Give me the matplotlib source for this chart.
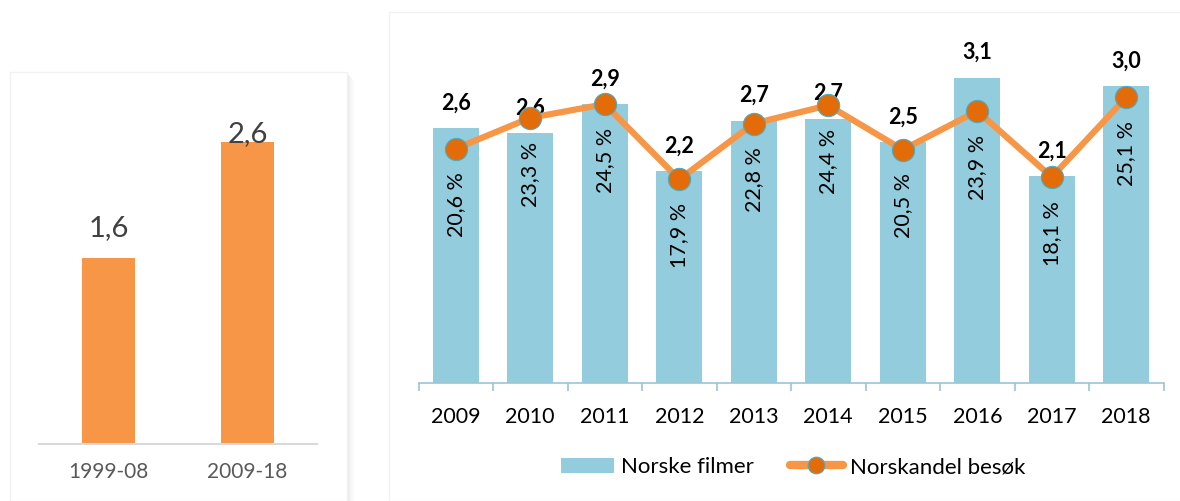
import matplotlib
matplotlib.use('Agg')
import matplotlib.pyplot as plt
from matplotlib.patches import Rectangle
from matplotlib.lines import Line2D
import numpy as np

plt.rcParams['font.family'] = ['Lato', 'DejaVu Sans']

# ---- data ----
periods = ["1999-08", "2009-18"]
period_values = [1.6, 2.6]

years = ["2009", "2010", "2011", "2012", "2013", "2014", "2015", "2016", "2017", "2018"]
norske_filmer = [2.61, 2.56, 2.86, 2.17, 2.69, 2.71, 2.47, 3.13, 2.12, 3.04]
norskandel = [20.6, 23.3, 24.5, 17.9, 22.8, 24.4, 20.5, 23.9, 18.1, 25.1]

# ---- colours ----
ORANGE = '#F79646'
DARK_ORANGE = '#E36C09'
BLUE = '#93CDDD'
AXIS_BLUE = '#9CC5D5'

W, H = 1180, 501
fig = plt.figure(figsize=(W / 100, H / 100), dpi=100)


def fx(px):
    return px / W


def fy(py):
    return 1 - py / H


# panel backgrounds (faint borders + shadow on the left one)
for i, a in enumerate([0.10, 0.08, 0.06, 0.045, 0.03, 0.02, 0.01]):
    fig.add_artist(Rectangle((fx(347 + i), 0), fx(1), fy(74 + i), transform=fig.transFigure,
                             facecolor='black', alpha=a, edgecolor='none', zorder=-3))
fig.add_artist(Rectangle((fx(10), 0), fx(337), fy(72), transform=fig.transFigure,
                         facecolor='white', edgecolor='#f2f2f2', linewidth=1, zorder=-2))
fig.add_artist(Rectangle((fx(389), 0), fx(800), fy(12), transform=fig.transFigure,
                         facecolor='white', edgecolor='#f2f2f2', linewidth=1, zorder=-2))

# ============================================================
# left chart: average per period
# ============================================================
axl = fig.add_axes([fx(39), fy(444), fx(278), (444 - 125) / H])
axl.patch.set_visible(False)
xl = np.arange(len(periods))
axl.bar(xl, period_values, width=0.375, color=ORANGE, zorder=2)
axl.set_xlim(-0.5, 1.5)
ymax_l = 2.75
axl.set_ylim(0, ymax_l)
for s in ['top', 'right', 'left']:
    axl.spines[s].set_visible(False)
axl.spines['bottom'].set_color('#d9d9d9')
axl.spines['bottom'].set_linewidth(1.5)
axl.set_yticks([])
axl.set_xticks(xl)
axl.set_xticklabels(periods, fontsize=15, color='#595959')
axl.tick_params(axis='x', length=0, pad=13)
for x, v in zip(xl, period_values):
    ly = min(v + 0.26, ymax_l - 0.08)
    axl.text(x, ly, f"{v:.1f}".replace('.', ','), ha='center', va='center',
             fontsize=21, color='#404040')

# ============================================================
# right chart: bars + share line
# ============================================================
ax = fig.add_axes([fx(418.5), fy(383.3), fx(745), (383.3 - 41.5) / H])
ax.patch.set_visible(False)
x = np.arange(len(years))
bars = ax.bar(x, norske_filmer, width=0.617, color=BLUE, zorder=2, label='Norske filmer')
ax.set_xlim(-0.5, len(years) - 0.5)
ax.set_ylim(0, 3.5)
for s in ['top', 'right', 'left']:
    ax.spines[s].set_visible(False)
ax.spines['bottom'].set_color(AXIS_BLUE)
ax.spines['bottom'].set_linewidth(1.2)
ax.set_yticks([])
ax.set_xticks(x)
ax.set_xticklabels(years, fontsize=15.5, color='black')
ax.set_xticks(np.arange(-0.5, len(years)), minor=True)
ax.tick_params(axis='x', which='major', length=0, pad=17)
ax.tick_params(axis='x', which='minor', length=6, width=1.2, color=AXIS_BLUE, direction='out')

for xi, v in zip(x, norske_filmer):
    ax.annotate(f"{v:.1f}".replace('.', ','), (xi, v), xytext=(0, 18),
                textcoords='offset points', ha='center', va='center',
                fontsize=15.5, fontweight='bold', color='black', zorder=5)

ax2 = ax.twinx()
ax2.set_ylim(0, 30)
ax2.set_axis_off()
ax2.plot(x, norskandel, color=ORANGE, linewidth=4.5, marker='o', markersize=16,
         markerfacecolor=DARK_ORANGE, markeredgecolor='#4BACC6', markeredgewidth=0.8,
         zorder=3, label='Norskandel besøk')
for xi, v in zip(x, norskandel):
    ax2.annotate(f"{v:.1f}".replace('.', ',') + " %", (xi, v), xytext=(0, -17),
                 textcoords='offset points', ha='center', va='top', rotation=90,
                 fontsize=15.5, color='black', zorder=5)

line_handle = Line2D([], [], color=ORANGE, linewidth=6, marker='o', markersize=12,
                     markerfacecolor=DARK_ORANGE, markeredgecolor='#4BACC6',
                     markeredgewidth=0.8, solid_capstyle='round')
fig.legend([bars, line_handle], ['Norske filmer', 'Norskandel besøk'],
           loc='center', bbox_to_anchor=(fx(793), fy(467)), ncol=2, frameon=False,
           fontsize=16, handlelength=2.4, handleheight=0.65, handletextpad=0.3,
           columnspacing=1.6)

fig.savefig('out.png', dpi=100)
